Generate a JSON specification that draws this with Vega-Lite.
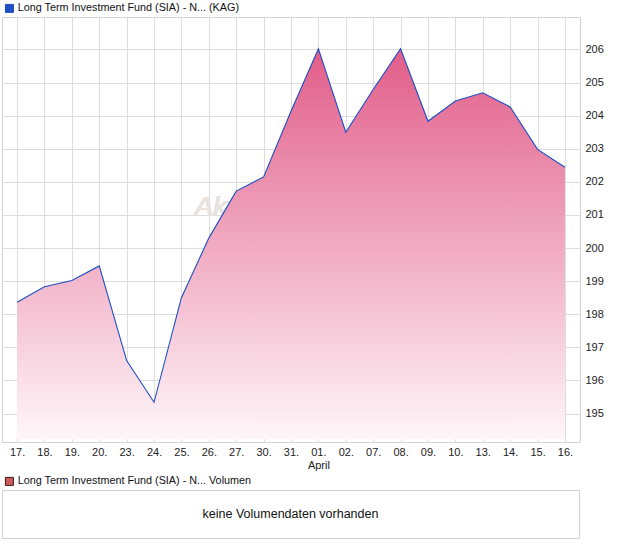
{
  "$schema": "https://vega.github.io/schema/vega-lite/v6.json",
  "padding": {"left": 1, "top": 2, "right": 0, "bottom": 0},
  "spacing": 4,
  "config": {
    "font": "Liberation Sans",
    "view": {"stroke": "#d2d2d2"},
    "axis": {"gridColor": "#dddddd", "gridWidth": 1, "labelFont": "Liberation Sans", "labelFontSize": 11, "labelColor": "#222222", "domain": false, "ticks": false, "title": null},
    "legend": {"labelFont": "Liberation Sans", "labelFontSize": 10.8, "labelColor": "#111111", "labelLimit": 0}
  },
  "vconcat": [
    {
      "width": 578,
      "height": 425,
      "data": {"values": [
        {"d": "17.", "v": 198.36, "s": "Long Term Investment Fund (SIA) - N... (KAG)"},
        {"d": "18.", "v": 198.83, "s": "Long Term Investment Fund (SIA) - N... (KAG)"},
        {"d": "19.", "v": 199.02, "s": "Long Term Investment Fund (SIA) - N... (KAG)"},
        {"d": "20.", "v": 199.46, "s": "Long Term Investment Fund (SIA) - N... (KAG)"},
        {"d": "23.", "v": 196.60, "s": "Long Term Investment Fund (SIA) - N... (KAG)"},
        {"d": "24.", "v": 195.34, "s": "Long Term Investment Fund (SIA) - N... (KAG)"},
        {"d": "25.", "v": 198.50, "s": "Long Term Investment Fund (SIA) - N... (KAG)"},
        {"d": "26.", "v": 200.30, "s": "Long Term Investment Fund (SIA) - N... (KAG)"},
        {"d": "27.", "v": 201.72, "s": "Long Term Investment Fund (SIA) - N... (KAG)"},
        {"d": "30.", "v": 202.15, "s": "Long Term Investment Fund (SIA) - N... (KAG)"},
        {"d": "31.", "v": 204.13, "s": "Long Term Investment Fund (SIA) - N... (KAG)"},
        {"d": "01.", "v": 206.02, "s": "Long Term Investment Fund (SIA) - N... (KAG)"},
        {"d": "02.", "v": 203.50, "s": "Long Term Investment Fund (SIA) - N... (KAG)"},
        {"d": "07.", "v": 204.79, "s": "Long Term Investment Fund (SIA) - N... (KAG)"},
        {"d": "08.", "v": 206.02, "s": "Long Term Investment Fund (SIA) - N... (KAG)"},
        {"d": "09.", "v": 203.83, "s": "Long Term Investment Fund (SIA) - N... (KAG)"},
        {"d": "10.", "v": 204.44, "s": "Long Term Investment Fund (SIA) - N... (KAG)"},
        {"d": "13.", "v": 204.69, "s": "Long Term Investment Fund (SIA) - N... (KAG)"},
        {"d": "14.", "v": 204.26, "s": "Long Term Investment Fund (SIA) - N... (KAG)"},
        {"d": "15.", "v": 202.98, "s": "Long Term Investment Fund (SIA) - N... (KAG)"},
        {"d": "16.", "v": 202.44, "s": "Long Term Investment Fund (SIA) - N... (KAG)"}
      ]},
      "encoding": {
        "x": {
          "field": "d", "type": "ordinal",
          "scale": {"type": "point", "padding": 0.55, "domain": ["17.", "18.", "19.", "20.", "23.", "24.", "25.", "26.", "27.", "30.", "31.", "01.", "02.", "07.", "08.", "09.", "10.", "13.", "14.", "15.", "16."]},
          "axis": {"grid": true, "labelAngle": 0, "labelPadding": 4, "labelExpr": "datum.label == '01.' ? ['01.', 'April'] : datum.label", "labelLineHeight": 13}
        },
        "y": {
          "field": "v", "type": "quantitative",
          "scale": {"domain": [194.14, 206.98], "zero": false, "nice": false},
          "axis": {"orient": "right", "values": [195, 196, 197, 198, 199, 200, 201, 202, 203, 204, 205, 206], "grid": true, "labelPadding": 5}
        }
      },
      "layer": [
        {
          "mark": {"type": "text", "text": "AktienCheck", "fontSize": 28, "fontStyle": "italic", "color": "#e8e3de", "align": "left", "baseline": "middle", "dx": 13},
          "encoding": {"x": {"datum": "25."}, "y": {"datum": 201.2}}
        },
        {
          "mark": {"type": "area", "fill": {"gradient": "linear", "x1": 0, "y1": 0, "x2": 0, "y2": 1, "stops": [{"offset": 0, "color": "#e15d89"}, {"offset": 1, "color": "#fff6f9"}]}},
          "encoding": {"y2": {"datum": 194.22}}
        },
        {
          "mark": {"type": "line", "strokeWidth": 1.1},
          "encoding": {
            "color": {
              "field": "s", "type": "nominal",
              "scale": {"range": ["#1d4ec4"]},
              "legend": {"orient": "none", "legendX": 2, "legendY": -14, "title": null, "padding": 0, "symbolType": "square", "symbolSize": 64, "labelOffset": 3,
                "encode": {"symbols": {"update": {"fill": {"value": "#1f4fc0"}, "stroke": {"value": "#1a1a3a"}, "strokeWidth": {"value": 1}, "opacity": {"value": 1}}}}}
            }
          }
        }
      ]
    },
    {
      "width": 577,
      "height": 48,
      "view": {"stroke": "#d2d2d2", "fill": "#ffffff"},
      "data": {"values": [
        {"s": "Long Term Investment Fund (SIA) - N... Volumen", "msg": "keine Volumendaten vorhanden"}
      ]},
      "layer": [
        {
          "mark": {"type": "point", "shape": "square", "filled": true, "opacity": 0},
          "encoding": {
            "color": {
              "field": "s", "type": "nominal",
              "scale": {"range": ["#d05a5a"]},
              "legend": {"orient": "none", "legendX": 2, "legendY": -14, "title": null, "padding": 0, "symbolType": "square", "symbolSize": 64, "labelOffset": 3,
                "encode": {"symbols": {"update": {"fill": {"value": "#d05a5a"}, "stroke": {"value": "#3a1a1a"}, "strokeWidth": {"value": 1}, "opacity": {"value": 1}}}}}
            }
          }
        },
        {
          "mark": {"type": "text", "fontSize": 12.5, "color": "#111111", "baseline": "middle"},
          "encoding": {"text": {"field": "msg"}}
        }
      ]
    }
  ],
  "resolve": {"scale": {"color": "independent"}, "legend": {"color": "independent"}}
}
